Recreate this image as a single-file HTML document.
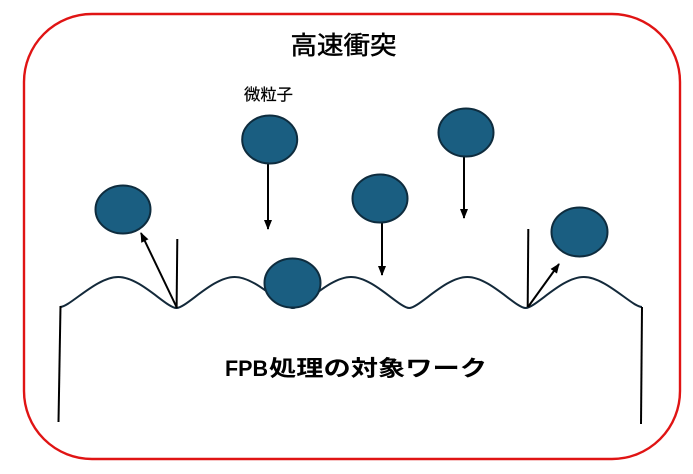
<!DOCTYPE html>
<html>
<head>
<meta charset="utf-8">
<style>
  html, body { margin: 0; padding: 0; background: #ffffff; }
  body { width: 693px; height: 474px; overflow: hidden; }
  svg { display: block; }
</style>
</head>
<body>
<svg width="693" height="474" viewBox="0 0 693 474" xmlns="http://www.w3.org/2000/svg">
  <defs>
    <marker id="ah" markerUnits="userSpaceOnUse" markerWidth="10" markerHeight="10" viewBox="0 0 10 10" refX="9" refY="5" orient="auto">
      <path d="M0,1 L10,5 L0,9 Z" fill="#000"/>
    </marker>
  </defs>

  <!-- red rounded frame -->
  <rect x="24" y="14" width="656" height="445" rx="68" ry="68" fill="#fff" stroke="#e01414" stroke-width="2.4"/>

  <!-- title -->
  <text x="343.5" y="54" font-family="'Liberation Sans','Noto Sans CJK JP',sans-serif" font-size="25" fill="#000" stroke="#000" stroke-width="0.5" text-anchor="middle" textLength="106" lengthAdjust="spacingAndGlyphs">高速衝突</text>

  <!-- particle label -->
  <text x="244" y="100" font-family="'Liberation Sans','Noto Sans CJK JP',sans-serif" font-size="16" fill="#000" stroke="#000" stroke-width="0.2" textLength="49" lengthAdjust="spacingAndGlyphs">微粒子</text>

  <!-- workpiece surface -->
  <path d="M60,307 C70,307 96,277 118.2,277 C140.4,277 166.4,308 176.4,308 C186.4,308 212.4,277 234.6,277 C256.8,277 282.8,308 292.8,308 C302.8,308 328.8,277 351,277 C373.2,277 399.2,308 409.2,308 C419.2,308 445.2,277 467.4,277 C489.6,277 515.6,308 525.6,308 C535.6,308 561.6,277 583.8,277 C606,277 632,307 642,307"
        fill="none" stroke="#13293a" stroke-width="2"/>
  <line x1="60.5" y1="306" x2="58.5" y2="422" stroke="#000" stroke-width="2"/>
  <line x1="642" y1="307" x2="641" y2="424" stroke="#000" stroke-width="2"/>

  <!-- normals -->
  <line x1="177.3" y1="239" x2="176.6" y2="308" stroke="#000" stroke-width="2"/>
  <line x1="528.3" y1="229" x2="527.7" y2="307" stroke="#000" stroke-width="2"/>

  <!-- arrows -->
  <line x1="268" y1="164" x2="268" y2="229" stroke="#000" stroke-width="2" marker-end="url(#ah)"/>
  <line x1="464" y1="157" x2="464" y2="218" stroke="#000" stroke-width="2" marker-end="url(#ah)"/>
  <line x1="382" y1="223" x2="382" y2="275" stroke="#000" stroke-width="2" marker-end="url(#ah)"/>
  <line x1="177" y1="308" x2="141" y2="233" stroke="#000" stroke-width="2" marker-end="url(#ah)"/>
  <line x1="528" y1="307" x2="559" y2="264" stroke="#000" stroke-width="2" marker-end="url(#ah)"/>

  <!-- particles -->
  <g fill="#1a5e81" stroke="#0e2c3e" stroke-width="2">
    <ellipse cx="123" cy="209.5" rx="27.5" ry="24"/>
    <ellipse cx="269.7" cy="139.5" rx="27.5" ry="24"/>
    <ellipse cx="466" cy="132.5" rx="27.5" ry="24"/>
    <ellipse cx="380" cy="198.5" rx="27.5" ry="24"/>
    <ellipse cx="292.5" cy="283" rx="28" ry="24.5"/>
    <ellipse cx="579.5" cy="232" rx="28" ry="24.5"/>
  </g>

  <!-- workpiece label -->
  <text x="225" y="376" font-family="'Liberation Sans','Noto Sans CJK JP',sans-serif" font-size="22" font-weight="bold" fill="#000" textLength="43" lengthAdjust="spacingAndGlyphs">FPB</text>
  <text x="269" y="376" font-family="'Liberation Sans','Noto Sans CJK JP',sans-serif" font-size="22" font-weight="bold" fill="#000" textLength="218" lengthAdjust="spacingAndGlyphs">処理の対象ワーク</text>
</svg>
</body>
</html>
